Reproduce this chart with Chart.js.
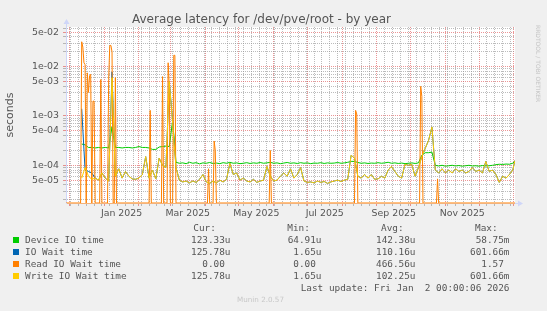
<!DOCTYPE html>
<html><head><meta charset="utf-8">
<script src="https://cdn.jsdelivr.net/npm/chart.js@4/dist/chart.umd.min.js"></script>
<style>
html,body{margin:0;padding:0;background:#f0f0f0;}
#wrap{position:relative;width:547px;height:311px;overflow:hidden;font-family:"DejaVu Sans";}
canvas{position:absolute;left:0;top:0;}
.t{position:absolute;white-space:pre;color:#555;}
.mono{font-family:"DejaVu Sans Mono";font-size:9.4px;line-height:12px;}
.sq{position:absolute;width:6px;height:6px;}
</style></head>
<body><div id="wrap"><canvas id="c" width="547" height="311"></canvas>
<div class="t" id="title" style="left:0;width:523px;text-align:center;top:11.6px;font-size:12px;line-height:14px;">Average latency for /dev/pve/root - by year</div>
<div class="t" style="left:541.8px;top:25px;font-size:6px;line-height:7px;color:#c4c4c4;transform:rotate(90deg);transform-origin:0 0;">RRDTOOL / TOBI OETIKER</div>
<div class="t" style="left:0;width:521px;text-align:center;top:295px;font-size:7.2px;line-height:9px;color:#c8c8c8;">Munin 2.0.57</div>
<div id="legend"></div>
</div>
<script>
// ---- data (day index: 0 = 28 Nov 2024, 400 = 2 Jan 2026) ----
const days = [14,17,20,23,26,29,32,35,38,41,44,47,50,53,56,59,62,65,68,71,74,77,80,83,86,89,92,95,98,101,104,107,110,113,116,119,122,125,128,131,134,137,140,143,146,149,152,155,158,161,164,167,170,173,176,179,182,185,188,191,194,197,200,203,206,209,212,215,218,221,224,227,230,233,236,239,242,245,248,251,254,257,260,263,266,269,272,275,278,281,284,287,290,293,296,299,302,305,308,311,314,317,320,323,326,329,332,335,338,341,344,347,350,353,356,359,362,365,368,371,374,377,380,383,386,389,392,395,398,400];
const deviceIO = [2.7e-4,2.6e-4,2.3e-4,2.3e-4,2.25e-4,2.3e-4,2.25e-4,2.3e-4,2.25e-4,6e-4,2.3e-4,2.3e-4,2.25e-4,2.3e-4,2.3e-4,2.25e-4,2.3e-4,2.4e-4,2.3e-4,2.3e-4,2.25e-4,2.1e-4,2.1e-4,2.35e-4,2.4e-4,2.45e-4,2.4e-4,8e-4,1.15e-4,1.1e-4,
1.12e-4,1.08e-4,1.15e-4,1.1e-4,1.13e-4,1.07e-4,1.12e-4,1.1e-4,1.14e-4,1.09e-4,1.11e-4,1.08e-4,1.13e-4,1.1e-4,1.15e-4,1.1e-4,1.12e-4,1.08e-4,1.1e-4,1.13e-4,1.09e-4,1.12e-4,1.1e-4,1.14e-4,1.1e-4,1.12e-4,1.15e-4,1.1e-4,1.12e-4,1.08e-4,
1.11e-4,1.14e-4,1.1e-4,1.12e-4,1.09e-4,1.13e-4,1.1e-4,1.12e-4,1.08e-4,1.11e-4,1.1e-4,1.13e-4,1.09e-4,1.12e-4,1.1e-4,1.11e-4,1.14e-4,1.1e-4,1.12e-4,1.15e-4,1.2e-4,1.2e-4,1.14e-4,1.1e-4,1.12e-4,1.09e-4,1.11e-4,1.1e-4,1.13e-4,1.1e-4,
1.12e-4,1.15e-4,1.1e-4,1.12e-4,1.09e-4,1.11e-4,1.08e-4,1.1e-4,1.12e-4,1.09e-4,1.12e-4,1.6e-4,1.8e-4,1.8e-4,1.85e-4,1.0e-4,9.7e-5,1e-4,9.6e-5,9.8e-5,1e-4,9.7e-5,9.9e-5,9.6e-5,9.8e-5,1e-4,9.7e-5,9.8e-5,9.6e-5,9.9e-5,
9.7e-5,9.8e-5,1e-4,1.03e-4,1.05e-4,1.04e-4,1.06e-4,1.05e-4,1.1e-4,1.23e-4];
const ioWait = [1.4e-3,8e-5,7.5e-5,7e-5,5.5e-5,5e-5,7e-5,5.5e-5,4.8e-5,7.8e-3,6e-5,8.5e-5,5.5e-5,7.5e-5,6e-5,5.3e-5,5.2e-5,5.5e-5,6.5e-5,1.5e-4,5.5e-5,8e-5,5.3e-5,1.4e-4,1e-4,9e-5,5e-3,8e-4,9e-5,5e-5,
4.6e-5,4.8e-5,4.4e-5,4.8e-5,4.5e-5,5.2e-5,6.5e-5,4.6e-5,4.3e-5,4.8e-5,4.4e-5,5e-5,4.6e-5,5.2e-5,1.1e-4,6.5e-5,7e-5,5e-5,5.5e-5,4.8e-5,4.6e-5,5.2e-5,4.5e-5,4.8e-5,5e-5,9.5e-5,6e-5,4.8e-5,5e-5,6e-5,
7e-5,6e-5,8.5e-5,5.5e-5,6.5e-5,9e-5,4.8e-5,4.5e-5,4.6e-5,4.4e-5,4.8e-5,4.5e-5,4.7e-5,4.3e-5,4.6e-5,4.8e-5,5e-5,4.7e-5,5e-5,5.2e-5,1.6e-4,1.4e-4,6e-5,5.5e-5,6.5e-5,5.5e-5,6.5e-5,5.2e-5,5.3e-5,6e-5,
5.5e-5,8e-5,9.5e-5,7.5e-5,6e-5,5.5e-5,1.05e-4,1e-4,1.05e-4,6e-5,9e-5,1.5e-4,2.2e-4,3.2e-4,6e-4,8e-5,7e-5,8.5e-5,7e-5,8e-5,7e-5,8.5e-5,7.5e-5,8e-5,7e-5,7.5e-5,9e-5,7.5e-5,8e-5,7e-5,
1.2e-4,7.5e-5,8e-5,6.5e-5,4.5e-5,6e-5,5.5e-5,6.5e-5,8e-5,1.26e-4];
const writeWait = [5.5e-5,9e-5,6e-5,5.2e-5,5.5e-5,5e-5,7e-5,5.5e-5,4.8e-5,6e-3,6e-5,8.5e-5,5.5e-5,7.5e-5,6e-5,5.3e-5,5.2e-5,5.5e-5,6.5e-5,1.5e-4,5.5e-5,8e-5,5.3e-5,1.4e-4,1e-4,9e-5,5e-3,7e-4,9e-5,5e-5,
4.6e-5,4.8e-5,4.4e-5,4.8e-5,4.5e-5,5.2e-5,6.5e-5,4.6e-5,4.3e-5,4.8e-5,4.4e-5,5e-5,4.6e-5,5.2e-5,1.1e-4,6.5e-5,7e-5,5e-5,5.5e-5,4.8e-5,4.6e-5,5.2e-5,4.5e-5,4.8e-5,5e-5,9.5e-5,6e-5,4.8e-5,5e-5,6e-5,
7e-5,6e-5,8.5e-5,5.5e-5,6.5e-5,9e-5,4.8e-5,4.5e-5,4.6e-5,4.4e-5,4.8e-5,4.5e-5,4.7e-5,4.3e-5,4.6e-5,4.8e-5,5e-5,4.7e-5,5e-5,5.2e-5,1.6e-4,1.4e-4,6e-5,5.5e-5,6.5e-5,5.5e-5,6.5e-5,5.2e-5,5.3e-5,6e-5,
5.5e-5,8e-5,9.5e-5,7.5e-5,6e-5,5.5e-5,1.05e-4,1e-4,1.05e-4,6e-5,9e-5,1.5e-4,2.2e-4,3.2e-4,6e-4,8e-5,7e-5,8.5e-5,7e-5,8e-5,7e-5,8.5e-5,7.5e-5,8e-5,7e-5,7.5e-5,9e-5,7.5e-5,8e-5,7e-5,
1.2e-4,7.5e-5,8e-5,6.5e-5,4.5e-5,6e-5,5.5e-5,6.5e-5,8e-5,1.26e-4];
const readDays = [0,13,14,15,16,17,18,19,20,21,22,23,24,25,26,30,31,32,37,38,39,40,41,42,43,44,45,74,75,76,85,86,87,90,91,92,93,95,96,97,98,126,127,128,131,132,133,134,181,182,183,257,258,259,260,315,316,317,318,330,331,332,400];
const readWait = [0,0,3.2e-2,2.5e-2,1.2e-2,1.1e-2,0,7.5e-3,3e-3,6.5e-3,7e-3,0,2e-3,2e-3,0,0,5.5e-3,0,0,5.5e-3,2.7e-2,2.7e-2,2e-2,0,0,6e-3,0,0,1.3e-3,0,0,6.3e-3,0,0,1.2e-2,4e-3,0,0,1.7e-2,1.7e-2,0,0,8.5e-5,0,0,3.1e-4,2e-4,0,0,2e-4,0,0,1.3e-3,1.1e-3,0,0,4e-3,2.5e-3,0,0,5.3e-5,0,0];

// ---- axis text ----
const monthStartDays = [3,34,65,93,124,154,185,215,246,277,307,338,368,399];
const xLabelDays = [49.5,108.5,169.5,230.5,292,353];
const xLabels = ['Jan 2025','Mar 2025','May 2025','Jul 2025','Sep 2025','Nov 2025'];
const yAxisTitle = 'seconds';

// ---- legend text ----
const seriesNames = ['Device IO time','IO Wait time','Read IO Wait time','Write IO Wait time'];
const seriesColors = ['#00cc00','#0066b3','#ff8000','#ffcc00'];
const curText = ['123.33u','125.78u','0.00 ','125.78u'];
const minText = ['64.91u','1.65u','0.00 ','1.65u'];
const avgText = ['142.38u','110.16u','466.56u','102.25u'];
const maxText = ['58.75m','601.66m','1.57 ','601.66m'];
const lastUpdate = 'Last update: Fri Jan  2 00:00:06 2026';

const YMIN = 1.72e-5, YMAX = 6.38e-2;
const GRID = 'rgba(143,143,143,0.6)', MGRID = 'rgba(222,79,79,0.6)';
const FONTC = '#555';

// legend HTML
const lg = document.getElementById('legend');
function addText(txt, opts){
  const d = document.createElement('div');
  d.className = 't mono';
  d.textContent = txt;
  d.style.top = opts.top + 'px';
  if (opts.left !== undefined) d.style.left = opts.left + 'px';
  if (opts.right !== undefined) d.style.right = (547 - opts.right) + 'px';
  lg.appendChild(d);
}
const hdrTop = 221.8;
addText('Cur:', {top:hdrTop, left:193.3});
addText('Min:', {top:hdrTop, left:287.3});
addText('Avg:', {top:hdrTop, left:381});
addText('Max:', {top:hdrTop, left:475});
seriesNames.forEach((n,i)=>{
  const top = 233.5 + 12*i;
  const sq = document.createElement('div');
  sq.className = 'sq'; sq.style.left = '13px'; sq.style.top = (237 + 12*i) + 'px';
  sq.style.background = seriesColors[i];
  lg.appendChild(sq);
  addText(n, {top, left:25});
  addText(curText[i], {top, right:230.5});
  addText(minText[i], {top, right:321.5});
  addText(avgText[i], {top, right:415.5});
  addText(maxText[i], {top, right:509.5});
});
addText(lastUpdate, {top:281.5, right:509.5});

// ticks
const xTicks = [];
monthStartDays.forEach(d => xTicks.push({value:d, kind:'month'}));
for (let d = 4; d <= 400; d += 7) if (!monthStartDays.includes(d)) xTicks.push({value:d, kind:'week'});
xLabelDays.forEach((d,i) => xTicks.push({value:d, kind:'label', text:xLabels[i]}));
xTicks.sort((a,b)=>a.value-b.value);

const yTicks = [];
for (let e = -5; e <= -2; e++) for (let m = 1; m <= 9; m++) {
  const v = m * Math.pow(10, e);
  if (v >= YMIN && v <= YMAX) yTicks.push({value:v, m});
}
function fmtE(v){
  const e = Math.floor(Math.log10(v) + 1e-9);
  const m = Math.round(v / Math.pow(10, e));
  return m + 'e' + (e < 0 ? '-' : '+') + String(Math.abs(e)).padStart(2,'0');
}
function mant(v){ const e = Math.floor(Math.log10(v) + 1e-9); return Math.round(v / Math.pow(10, e)); }

function pts(xs, ys){ return xs.map((x,i)=>({x, y: ys[i] <= 0 ? YMIN : ys[i]})); }

const deco = {
  id:'deco',
  beforeDraw(chart){
    const {ctx, chartArea:a} = chart;
    ctx.save(); ctx.fillStyle = '#ffffff';
    ctx.fillRect(a.left, a.top, a.right - a.left, a.bottom - a.top);
    ctx.restore();
  },
  afterDraw(chart){
    const {ctx, chartArea:a} = chart;
    ctx.save();
    ctx.strokeStyle = '#cfd6f8'; ctx.lineWidth = 1;
    ctx.beginPath();
    ctx.moveTo(Math.round(a.left)+0.5, a.top); ctx.lineTo(Math.round(a.left)+0.5, a.top - 4);
    ctx.moveTo(a.right, Math.round(a.bottom)+0.5); ctx.lineTo(a.right + 4, Math.round(a.bottom)+0.5);
    ctx.stroke();
    ctx.fillStyle = '#cfd6f8';
    const lx = Math.round(a.left)+0.5;
    ctx.beginPath(); ctx.moveTo(lx - 3, a.top - 3); ctx.lineTo(lx + 3, a.top - 3); ctx.lineTo(lx, a.top - 8); ctx.closePath(); ctx.fill();
    const by = Math.round(a.bottom)+0.5;
    ctx.beginPath(); ctx.moveTo(a.right + 3, by - 3); ctx.lineTo(a.right + 3, by + 3); ctx.lineTo(a.right + 8, by); ctx.closePath(); ctx.fill();
    ctx.restore();
  }
};

const lineDs = (label, data, color, order) => ({label, data, borderColor:color, backgroundColor:color, borderWidth:1, pointRadius:0, tension:0, fill:false, order, spanGaps:false});

new Chart(document.getElementById('c'), {
  type:'line',
  data:{ datasets:[
    lineDs(seriesNames[0], pts(days, deviceIO), seriesColors[0], 3),
    lineDs(seriesNames[1], pts(days, ioWait), seriesColors[1], 2),
    lineDs(seriesNames[2], pts(readDays, readWait), seriesColors[2], 1),
    lineDs(seriesNames[3], pts(days, writeWait), seriesColors[3], 0)
  ]},
  options:{
    responsive:false, animation:false, events:[],
    layout:{ padding:{left:0, top:27, right:32, bottom:88} },
    plugins:{ legend:{display:false}, tooltip:{enabled:false}, title:{display:false} },
    scales:{
      x:{
        type:'linear', min:0, max:400, bounds:'data',
        afterBuildTicks: s => { s.ticks = xTicks.map(t => Object.assign({}, t)); },
        afterFit: s => { s.height = 20; },
        ticks:{ autoSkip:false, maxRotation:0, minRotation:0, padding:2, color:FONTC,
          font:{family:'DejaVu Sans', size:9.4},
          callback:(v, i) => { const t = xTicks[i]; return t && t.kind === 'label' ? t.text : ''; } },
        grid:{ color: c => { const k = c.tick && c.tick.kind; return k === 'month' ? MGRID : k === 'week' ? GRID : 'rgba(0,0,0,0)'; },
          lineWidth:1, tickLength:3, drawTicks:true },
        border:{ display:true, color:'#f4b27a', width:1, dash:[1,1] }
      },
      y:{
        type:'logarithmic', min:YMIN, max:YMAX, bounds:'data',
        afterBuildTicks: s => { s.ticks = yTicks.map(t => ({value:t.value})); },
        afterFit: s => { s.width = 66; },
        title:{ display:true, text:yAxisTitle, color:FONTC, font:{family:'DejaVu Sans', size:11, lineHeight:1.2}, padding:{top:4, bottom:0} },
        ticks:{ autoSkip:false, padding:4, color:FONTC, font:{family:'DejaVu Sans', size:9.4},
          callback: v => { const m = mant(v); return (m === 1 || m === 5) ? fmtE(v) : ''; } },
        grid:{ color: c => { if (!c.tick) return GRID; const m = mant(c.tick.value); return (m === 1 || m === 5) ? MGRID : GRID; },
          lineWidth:1, tickLength:3, drawTicks:true },
        border:{ display:true, color:'#cfd6f8', width:1, dash:[1,1] }
      }
    }
  },
  plugins:[deco]
});
</script>
</body></html>
